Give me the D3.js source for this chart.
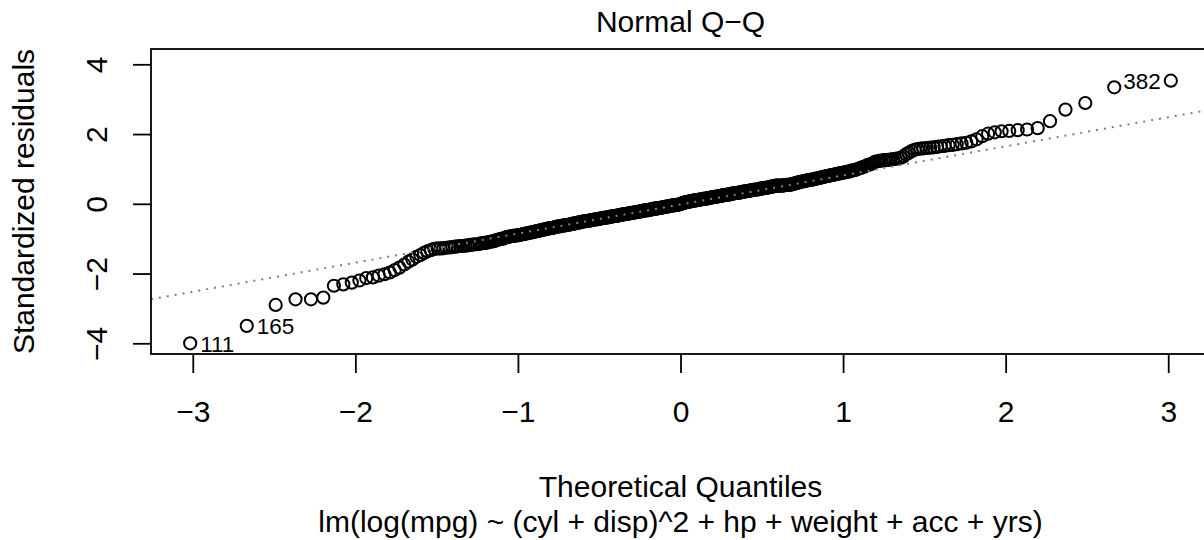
<!DOCTYPE html>
<html>
<head>
<meta charset="utf-8">
<script src="https://cdn.jsdelivr.net/npm/d3@7"></script>
<style>
  html, body { margin: 0; padding: 0; background: #fff; }
  svg { display: block; font-family: "Liberation Sans", Arial, Helvetica, sans-serif; }
</style>
</head>
<body>
<div id="chart"></div>
<script>
// theoretical normal quantiles (x) and sorted standardized residuals (y), 392 obs
const theoQ = [
  -3.016,-2.668,-2.490,-2.368,-2.273,-2.197,-2.132,-2.074,-2.022,-1.975,
  -1.933,-1.892,-1.856,-1.821,-1.788,-1.758,-1.729,-1.699,-1.674,-1.649,
  -1.624,-1.600,-1.578,-1.557,-1.536,-1.515,-1.494,-1.476,-1.458,-1.440,
  -1.421,-1.403,-1.387,-1.371,-1.355,-1.339,-1.323,-1.307,-1.292,-1.278,
  -1.264,-1.250,-1.237,-1.223,-1.209,-1.195,-1.183,-1.170,-1.158,-1.146,
  -1.133,-1.121,-1.108,-1.097,-1.085,-1.074,-1.063,-1.052,-1.041,-1.030,
  -1.019,-1.008,-0.997,
  -0.987,-0.977,-0.967,-0.957,-0.947,-0.937,-0.927,-0.917,-0.907,-0.897,
  -0.888,-0.879,-0.869,-0.860,-0.851,-0.842,-0.833,-0.823,-0.814,-0.805,
  -0.796,-0.788,-0.779,-0.771,-0.762,-0.754,-0.745,-0.737,-0.728,-0.720,
  -0.711,-0.703,-0.695,-0.687,-0.679,-0.671,-0.663,-0.655,-0.648,-0.640,
  -0.632,-0.624,-0.616,-0.608,-0.600,-0.593,-0.585,-0.578,-0.570,-0.563,
  -0.555,-0.548,-0.541,-0.533,-0.526,-0.518,-0.511,-0.503,-0.496,-0.489,
  -0.482,-0.475,-0.468,-0.461,-0.454,-0.447,-0.440,-0.432,-0.425,-0.418,
  -0.411,-0.404,-0.397,-0.390,-0.384,-0.377,-0.370,-0.363,-0.356,-0.350,
  -0.343,-0.336,-0.329,-0.322,-0.316,-0.309,-0.302,-0.295,-0.289,-0.282,
  -0.275,-0.269,-0.262,-0.256,-0.249,-0.242,-0.236,-0.229,-0.223,-0.216,
  -0.209,-0.203,-0.196,-0.190,-0.183,-0.177,-0.170,-0.164,-0.158,-0.151,
  -0.145,-0.138,-0.132,-0.125,-0.119,-0.112,-0.106,-0.099,-0.093,-0.086,
  -0.080,-0.074,-0.067,-0.061,-0.054,-0.048,-0.042,-0.035,-0.029,-0.022,
  -0.016,-0.010,-0.003,
  0.003,0.010,0.016,0.022,0.029,0.035,0.042,0.048,0.054,0.061,
  0.067,0.074,0.080,0.086,0.093,0.099,0.106,0.112,0.119,0.125,
  0.132,0.138,0.145,0.151,0.158,0.164,0.170,0.177,0.183,0.190,
  0.196,0.203,0.209,0.216,0.223,0.229,0.236,0.242,0.249,0.256,
  0.262,0.269,0.275,0.282,0.289,0.295,0.302,0.309,0.316,0.322,
  0.329,0.336,0.343,0.350,0.356,0.363,0.370,0.377,0.384,0.390,
  0.397,0.404,0.411,0.418,0.425,0.432,0.440,0.447,0.454,0.461,
  0.468,0.475,0.482,0.489,0.496,0.503,0.511,0.518,0.526,0.533,
  0.541,0.548,0.555,0.563,0.570,0.578,0.585,0.593,0.600,0.608,
  0.616,0.624,0.632,0.640,0.648,0.655,0.663,0.671,0.679,0.687,
  0.695,0.703,0.711,0.720,0.728,0.737,0.745,0.754,0.762,0.771,
  0.779,0.788,0.796,0.805,0.814,0.823,0.833,0.842,0.851,0.860,
  0.869,0.879,0.888,0.897,0.907,0.917,0.927,0.937,0.947,0.957,
  0.967,0.977,0.987,0.997,1.008,1.019,1.030,1.041,1.052,1.063,
  1.074,1.085,1.097,1.108,1.121,1.133,1.146,1.158,1.170,1.183,
  1.195,1.209,1.223,1.237,1.250,1.264,1.278,1.292,1.307,1.323,
  1.339,1.355,1.371,1.387,1.403,1.421,1.440,1.458,1.476,1.494,
  1.515,1.536,1.557,1.578,1.600,1.624,1.649,1.674,1.699,1.729,
  1.758,1.788,1.821,1.856,1.892,1.933,1.975,2.022,2.074,2.132,
  2.197,2.273,2.368,2.490,2.668,3.016
];

const stdResid = [
  -4.00,-3.50,-2.90,-2.74,-2.74,-2.69,-2.35,-2.31,-2.26,-2.20,
  -2.13,-2.11,-2.06,-2.02,-1.97,-1.90,-1.83,-1.74,-1.66,-1.60,
  -1.52,-1.47,-1.41,-1.36,-1.33,-1.29,-1.28,-1.28,-1.27,-1.26,
  -1.25,-1.24,-1.23,-1.22,-1.21,-1.21,-1.20,-1.19,-1.18,-1.17,
  -1.16,-1.16,-1.15,-1.13,-1.12,-1.12,-1.10,-1.09,-1.08,-1.07,
  -1.04,-1.03,-1.01,-1.00,-0.99,-0.96,-0.95,-0.94,-0.93,-0.92,
  -0.91,-0.91,-0.90,
  -0.89,-0.88,-0.87,-0.86,-0.85,-0.84,-0.83,-0.82,-0.81,-0.80,
  -0.79,-0.78,-0.77,-0.76,-0.75,-0.74,-0.73,-0.72,-0.71,-0.70,
  -0.70,-0.69,-0.68,-0.67,-0.66,-0.65,-0.65,-0.64,-0.63,-0.62,
  -0.62,-0.61,-0.60,-0.60,-0.59,-0.58,-0.57,-0.57,-0.56,-0.55,
  -0.54,-0.53,-0.53,-0.52,-0.51,-0.50,-0.50,-0.50,-0.49,-0.48,
  -0.48,-0.47,-0.46,-0.45,-0.45,-0.45,-0.44,-0.43,-0.43,-0.42,
  -0.41,-0.40,-0.40,-0.40,-0.39,-0.39,-0.38,-0.37,-0.37,-0.36,
  -0.35,-0.35,-0.35,-0.34,-0.33,-0.33,-0.32,-0.31,-0.31,-0.30,
  -0.30,-0.29,-0.29,-0.28,-0.28,-0.27,-0.26,-0.26,-0.25,-0.25,
  -0.24,-0.24,-0.23,-0.23,-0.22,-0.21,-0.21,-0.20,-0.19,-0.19,
  -0.19,-0.18,-0.18,-0.17,-0.16,-0.16,-0.15,-0.14,-0.14,-0.14,
  -0.13,-0.13,-0.12,-0.12,-0.11,-0.10,-0.10,-0.09,-0.09,-0.08,
  -0.08,-0.07,-0.07,-0.06,-0.05,-0.05,-0.04,-0.04,-0.04,-0.03,
  -0.03,-0.02,-0.01,
  0.00,0.01,0.03,0.03,0.04,0.05,0.05,0.06,0.06,0.07,
  0.08,0.08,0.09,0.10,0.10,0.10,0.11,0.11,0.12,0.13,
  0.13,0.14,0.14,0.15,0.15,0.15,0.16,0.17,0.17,0.18,
  0.19,0.19,0.20,0.20,0.21,0.21,0.22,0.22,0.23,0.24,
  0.24,0.25,0.26,0.26,0.26,0.27,0.27,0.28,0.29,0.29,
  0.30,0.31,0.31,0.31,0.32,0.32,0.33,0.34,0.34,0.35,
  0.36,0.36,0.36,0.37,0.38,0.38,0.39,0.40,0.40,0.41,
  0.41,0.41,0.42,0.43,0.44,0.44,0.45,0.46,0.46,0.46,
  0.47,0.48,0.49,0.49,0.50,0.51,0.52,0.52,0.52,0.52,
  0.52,0.52,0.53,0.53,0.54,0.54,0.54,0.54,0.55,0.57,
  0.57,0.58,0.60,0.60,0.62,0.63,0.64,0.64,0.65,0.66,
  0.67,0.68,0.69,0.69,0.70,0.71,0.72,0.73,0.74,0.75,
  0.76,0.77,0.78,0.79,0.80,0.81,0.82,0.83,0.84,0.85,
  0.86,0.87,0.88,0.89,0.90,0.91,0.92,0.93,0.95,0.96,
  0.97,0.99,1.01,1.03,1.05,1.07,1.10,1.12,1.14,1.16,
  1.20,1.22,1.23,1.24,1.25,1.25,1.26,1.27,1.28,1.29,
  1.30,1.32,1.36,1.42,1.46,1.51,1.55,1.57,1.58,1.59,
  1.60,1.61,1.62,1.63,1.65,1.66,1.68,1.69,1.71,1.73,
  1.75,1.79,1.85,1.94,2.01,2.05,2.08,2.09,2.11,2.13,
  2.17,2.37,2.70,2.89,3.34,3.53
];

// labelled extreme observations
const idIndex = [0, 1, 391];
const idLabels = ["111", "165", "382"];

const xTicks = [-3, -2, -1, 0, 1, 2, 3];
const yTicks = [-4, -2, 0, 2, 4];
const normalQuartiles = [-0.6745, 0.6745];

const titleText = "Normal Q\u2212Q";
const xLabel = "Theoretical Quantiles";
const yLabel = "Standardized residuals";
const subCaption = "lm(log(mpg) ~ (cyl + disp)^2 + hp + weight + acc + yrs)";

const width = 1204;
const height = 540;
const plot = { left: 151, right: 1210, top: 49, bottom: 354 };
const fontSize = 30;

const x = d3.scaleLinear()
    .domain([-3.257, 3.257])
    .range([plot.left, plot.right]);

const y = d3.scaleLinear()
    .domain([-4.307, 4.439])
    .range([plot.bottom, plot.top]);

const svg = d3.select("#chart").append("svg")
    .attr("width", width)
    .attr("height", height)
    .attr("viewBox", [0, 0, width, height]);

svg.append("rect")
    .attr("width", width)
    .attr("height", height)
    .attr("fill", "#fff");

svg.append("clipPath")
    .attr("id", "plot-clip")
    .append("rect")
    .attr("x", plot.left)
    .attr("y", plot.top)
    .attr("width", plot.right - plot.left)
    .attr("height", plot.bottom - plot.top);

// points
const points = theoQ.map((q, i) => ({ q, r: stdResid[i] }));

svg.append("g")
    .attr("fill", "none")
    .attr("stroke", "#000")
    .attr("stroke-width", 2)
    .selectAll("circle")
    .data(points)
    .join("circle")
    .attr("cx", d => x(d.q))
    .attr("cy", d => y(d.r))
    .attr("r", 6.1);

// qqline through the quartiles
const q1 = d3.quantile(stdResid, 0.25);
const q3 = d3.quantile(stdResid, 0.75);
const slope = (q3 - q1) / (normalQuartiles[1] - normalQuartiles[0]);
const intercept = q1 - slope * normalQuartiles[0];
const [x0, x1] = x.domain();

svg.append("line")
    .attr("clip-path", "url(#plot-clip)")
    .attr("x1", x(x0))
    .attr("y1", y(intercept + slope * x0))
    .attr("x2", x(x1))
    .attr("y2", y(intercept + slope * x1))
    .attr("stroke", "#7f7f7f")
    .attr("stroke-width", 2)
    .attr("stroke-dasharray", "2 6");

// id labels
svg.append("g")
    .style("font-size", "22.5px")
    .selectAll("text")
    .data(idIndex)
    .join("text")
    .attr("x", i => theoQ[i] < 0 ? x(theoQ[i]) + 10 : x(theoQ[i]) - 10)
    .attr("y", i => y(stdResid[i]))
    .attr("dy", "0.37em")
    .attr("text-anchor", i => theoQ[i] < 0 ? "start" : "end")
    .text((i, k) => idLabels[k]);

// box
svg.append("rect")
    .attr("x", plot.left)
    .attr("y", plot.top)
    .attr("width", plot.right - plot.left)
    .attr("height", plot.bottom - plot.top)
    .attr("fill", "none")
    .attr("stroke", "#000")
    .attr("stroke-width", 1.8);

// axes
const xAxis = svg.append("g")
    .attr("transform", `translate(0,${plot.bottom})`)
    .call(d3.axisBottom(x).tickValues(xTicks).tickSize(19).tickFormat(d3.format("d")));

const yAxis = svg.append("g")
    .attr("transform", `translate(${plot.left},0)`)
    .call(d3.axisLeft(y).tickValues(yTicks).tickSize(18).tickFormat(d3.format("d")));

[xAxis, yAxis].forEach(g => {
    g.select(".domain").remove();
    g.selectAll(".tick line").attr("stroke", "#000").attr("stroke-width", 1.8);
    g.selectAll(".tick text")
        .attr("fill", "#000")
        .style("font-size", fontSize + "px")
        .style("font-family", "'Liberation Sans', Arial, Helvetica, sans-serif");
});

xAxis.selectAll(".tick text")
    .attr("y", 68)
    .attr("dy", null);

yAxis.selectAll(".tick text")
    .attr("transform", "rotate(-90)")
    .attr("x", 0)
    .attr("y", -44)
    .attr("dy", null)
    .attr("text-anchor", "middle");

// titles
const mid = (plot.left + plot.right) / 2;

svg.append("text")
    .attr("x", mid)
    .attr("y", 32)
    .attr("text-anchor", "middle")
    .style("font-size", fontSize + "px")
    .text(titleText);

svg.append("text")
    .attr("x", mid)
    .attr("y", 497)
    .attr("text-anchor", "middle")
    .style("font-size", fontSize + "px")
    .text(xLabel);

svg.append("text")
    .attr("x", mid)
    .attr("y", 532)
    .attr("text-anchor", "middle")
    .style("font-size", fontSize + "px")
    .text(subCaption);

svg.append("text")
    .attr("transform", `translate(34,${(plot.top + plot.bottom) / 2}) rotate(-90)`)
    .attr("text-anchor", "middle")
    .style("font-size", fontSize + "px")
    .text(yLabel);
</script>
</body>
</html>
